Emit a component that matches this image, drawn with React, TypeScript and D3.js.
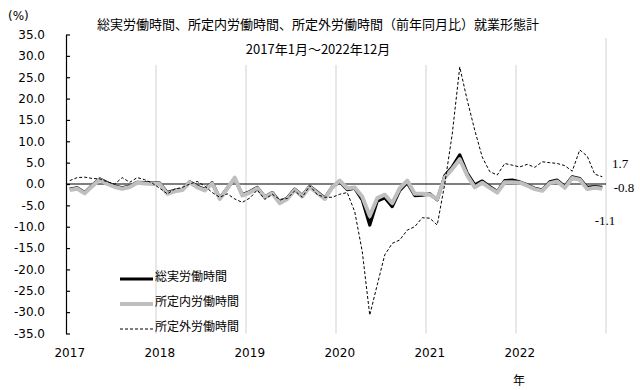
import React, { useEffect, useRef } from 'react'
import * as d3 from 'd3'

const years = ['2017', '2018', '2019', '2020', '2021', '2022']

// 総実労働時間 (前年同月比 %)
const totalHours = [
    -1.2, -0.9, -2.0, -0.3, 1.2, 0.3, -0.5, -0.9, -0.5, 0.4, 0.3, 0.2,
    0.2, -2.0, -1.5, -1.3, 0.5, -0.5, -1.3, 0.3, -3.3, -1.0, 1.2, -2.5,
    -1.8, -0.8, -3.0, -2.0, -4.2, -3.3, -1.2, -2.7, -0.5, -1.9, -3.3, -0.7,
    0.5, -1.3, -1.0, -3.7, -9.6, -4.0, -3.2, -5.3, -1.5, 0.3, -2.7, -2.6,
    -2.3, -3.7, 1.9, 4.0, 6.8, 2.5, -0.2, 0.7, -0.6, -1.8, 0.8, 0.9,
    0.5, -0.2, -1.0, -1.4, 0.5, 0.9, -0.6, 1.7, 1.3, -0.8, -0.6, -0.8,
]

// 所定内労働時間
const scheduledHours = [
    -1.4, -1.1, -2.2, -0.5, 1.0, 0.0, -0.7, -1.1, -0.7, 0.3, 0.1, 0.0,
    0.0, -2.3, -1.7, -1.4, 0.4, -0.8, -1.5, 0.1, -3.5, -1.1, 1.5, -2.7,
    -2.0, -1.0, -3.1, -2.2, -4.5, -3.5, -1.4, -2.9, -0.7, -2.1, -3.5, -0.8,
    0.8, -1.0, -0.8, -3.0, -7.5, -3.3, -2.5, -4.5, -1.0, 0.8, -2.3, -2.3,
    -2.5, -3.5, 1.5, 3.5, 5.8, 2.0, -0.8, 0.3, -0.9, -2.0, 0.4, 0.4,
    0.3, -0.4, -1.2, -1.6, 0.2, 0.6, -0.9, 1.4, 1.0, -1.2, -0.9, -1.1,
]

// 所定外労働時間
const overtimeHours = [
    0.8, 1.5, 1.6, 1.3, 1.2, 0.5, 0.0, 1.5, 0.4, 1.5, 1.0, 0.2,
    -1.0, -2.3, -1.2, -0.8, 0.0, 0.6, -0.5, -2.0, -3.1, -2.3, -3.5, -4.3,
    -3.3, -1.4, -3.6, -2.4, -3.6, -3.4, -1.6, -3.1, -0.4, -2.5, -3.1, -3.1,
    -2.4, -2.0, -6.5, -15.8, -30.7, -23.6, -16.6, -13.9, -13.1, -10.8, -10.0, -7.9,
    -8.0, -9.6, 0.0, 11.7, 27.4, 19.6, 12.6, 6.3, 2.9, 2.1, 4.8, 4.4,
    4.0, 4.6, 3.9, 5.2, 5.0, 4.8, 4.3, 3.0, 8.0, 6.5, 2.3, 1.7,
]

const legendNames = ['総実労働時間', '所定内労働時間', '所定外労働時間']
const endLabels = ['1.7', '-0.8', '-1.1']

const W = 640
const H = 390
const CJK = '"Noto Sans CJK JP", sans-serif'

const App: React.FC = () => {
    const svgRef = useRef<SVGSVGElement | null>(null)

    useEffect(() => {
        const svg = d3.select(svgRef.current)
        svg.selectAll('*').remove()

        const months = d3.range(totalHours.length)
        const x = d3.scaleBand<number>().domain(months).range([66, 606]).padding(0)
        const y = d3.scaleLinear().domain([-35, 35]).range([333.5, 34.5])
        const cx = (i: number) => x(i)! + x.bandwidth() / 2

        // year gridlines
        svg.append('g')
            .selectAll('line')
            .data(d3.range(1, years.length + 1))
            .join('line')
            .attr('x1', (d) => x(0)! + d * 12 * x.bandwidth())
            .attr('x2', (d) => x(0)! + d * 12 * x.bandwidth())
            .attr('y1', (d) => (d === years.length ? 38 : 65))
            .attr('y2', 333.5)
            .attr('stroke', '#d9d9d9')
            .attr('stroke-width', 1.2)

        // zero line
        svg.append('line')
            .attr('x1', 66).attr('x2', 606)
            .attr('y1', y(0)).attr('y2', y(0))
            .attr('stroke', '#000').attr('stroke-width', 1.2)

        // y axis, ticks inside
        const yAxis = svg.append('g')
            .attr('transform', 'translate(66,0)')
            .call(
                d3.axisLeft(y)
                    .tickValues(d3.range(-35, 36, 5))
                    .tickSizeInner(-4)
                    .tickSizeOuter(0)
                    .tickPadding(21)
                    .tickFormat((d) => (+d).toFixed(1))
            )
        yAxis.selectAll('path, line').attr('stroke', '#000').attr('stroke-width', 1.2)
        yAxis.selectAll('text')
            .attr('font-family', '"DejaVu Sans", sans-serif')
            .attr('font-size', 12)
            .attr('fill', '#000')

        // x axis labels only
        const xAxis = svg.append('g')
            .attr('transform', 'translate(0,333.5)')
            .call(
                d3.axisBottom(x)
                    .tickValues(months.filter((i) => i % 12 === 0))
                    .tickSize(0)
                    .tickPadding(15)
                    .tickFormat((d) => years[Math.floor(+d / 12)])
            )
        xAxis.select('.domain').remove()
        xAxis.selectAll('text')
            .attr('font-family', '"DejaVu Sans", sans-serif')
            .attr('font-size', 12)
            .attr('fill', '#000')

        const line = d3.line<number>()
            .x((_, i) => cx(i))
            .y((d) => y(d))

        const series = [
            { data: totalHours, stroke: '#000', width: 3.2, dash: null },
            { data: scheduledHours, stroke: '#bfbfbf', width: 4, dash: null },
            { data: overtimeHours, stroke: '#000', width: 1, dash: '3,2' },
        ]

        series.forEach((s) => {
            svg.append('path')
                .datum(s.data)
                .attr('d', line)
                .attr('fill', 'none')
                .attr('stroke', s.stroke)
                .attr('stroke-width', s.width)
                .attr('stroke-linejoin', 'round')
                .attr('stroke-dasharray', s.dash)
        })

        // legend
        const legendY = [279, 304, 329]
        series.forEach((s, i) => {
            svg.append('line')
                .attr('x1', 120).attr('x2', 153)
                .attr('y1', legendY[i]).attr('y2', legendY[i])
                .attr('stroke', s.stroke)
                .attr('stroke-width', s.width)
                .attr('stroke-dasharray', s.dash)
            svg.append('text')
                .attr('x', 155)
                .attr('y', legendY[i] + 1.5)
                .attr('font-family', CJK)
                .attr('font-size', 12)
                .attr('fill', '#000')
                .text(legendNames[i])
        })

        // end labels
        const endPos = [
            [620, 167.5],
            [624, 191.5],
            [605, 224.5],
        ]
        endLabels.forEach((t, i) => {
            svg.append('text')
                .attr('x', endPos[i][0])
                .attr('y', endPos[i][1])
                .attr('text-anchor', 'middle')
                .attr('font-family', '"Liberation Serif", serif')
                .attr('font-size', 13)
                .attr('fill', '#000')
                .text(t)
        })

        // titles
        svg.append('text')
            .attr('x', 8).attr('y', 20)
            .attr('font-family', '"DejaVu Sans", sans-serif')
            .attr('font-size', 12)
            .text('(%)')
        svg.append('text')
            .attr('x', 318).attr('y', 29)
            .attr('text-anchor', 'middle')
            .attr('font-family', CJK)
            .attr('font-size', 13)
            .text('総実労働時間、所定内労働時間、所定外労働時間（前年同月比）就業形態計')
        svg.append('text')
            .attr('x', 318).attr('y', 54)
            .attr('text-anchor', 'middle')
            .attr('font-family', CJK)
            .attr('font-size', 13)
            .text('2017年1月～2022年12月')
        svg.append('text')
            .attr('x', 519).attr('y', 385)
            .attr('text-anchor', 'middle')
            .attr('font-family', CJK)
            .attr('font-size', 12)
            .text('年')
    }, [])

    return (
        <svg
            ref={svgRef}
            width={W}
            height={H}
            style={{ position: 'absolute', left: 0, top: 0, background: '#fff' }}
        />
    )
}

export default App
